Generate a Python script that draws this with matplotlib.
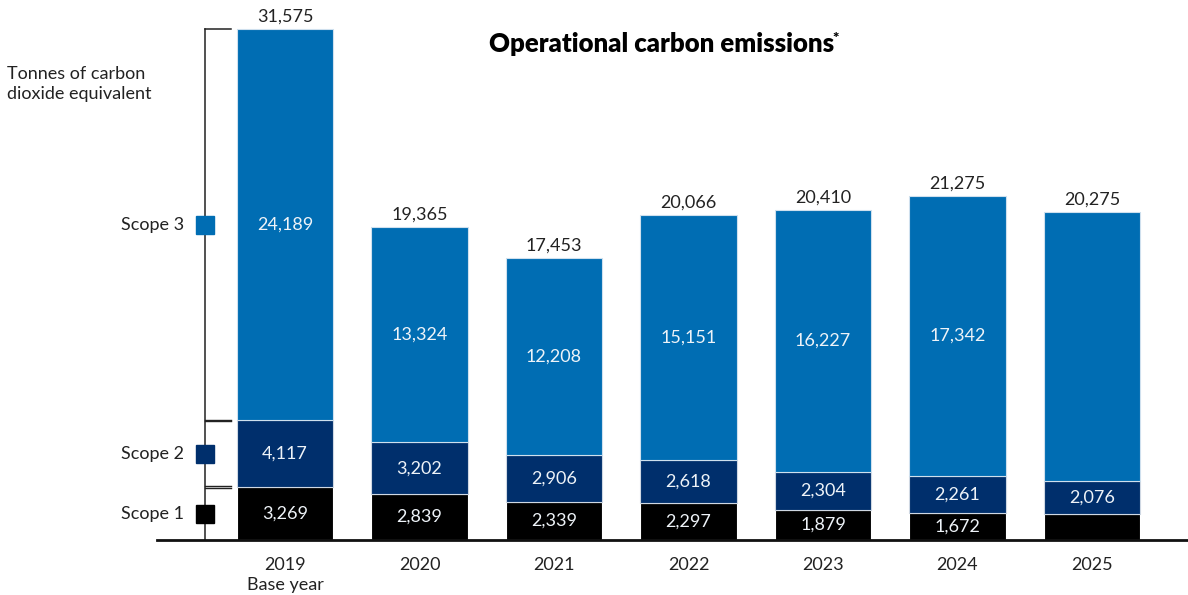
import matplotlib.pyplot as plt
import numpy as np

plt.rcParams['font.family'] = ['Lato', 'DejaVu Sans']

years = ['2019\nBase year', '2020', '2021', '2022', '2023', '2024', '2025']
scope1 = [3269, 2839, 2339, 2297, 1879, 1672, 1600]
scope2 = [4117, 3202, 2906, 2618, 2304, 2261, 2076]
scope3 = [24189, 13324, 12208, 15151, 16227, 17342, 16599]
totals = [31575, 19365, 17453, 20066, 20410, 21275, 20275]
# 2025 only shows scope 2 and the total
show_s1 = [True, True, True, True, True, True, False]
show_s3 = [True, True, True, True, True, True, False]

c1 = '#000000'
c2 = '#002f6c'
c3 = '#006db3'
txt = '#222222'
inner = '#eef3f8'

fig = plt.figure(figsize=(11.88, 5.95), dpi=100)
ax = fig.add_axes([157 / 1188, 55 / 595, 1031 / 1188, 540 / 595])

x = np.arange(len(years))
w = 0.72
s1 = np.array(scope1)
s2 = np.array(scope2)
s3 = np.array(scope3)

ax.bar(x, s1, w, color=c1, edgecolor='white', linewidth=0.8)
ax.bar(x, s2, w, bottom=s1, color=c2, edgecolor='#cfd8e3', linewidth=0.8)
ax.bar(x, s3, w, bottom=s1 + s2, color=c3, edgecolor='#cfe0ee', linewidth=0.8)

fs = 13
for i in range(len(x)):
    if show_s1[i]:
        ax.text(x[i], s1[i] / 2, f'{scope1[i]:,}', ha='center', va='center', color=inner, fontsize=fs)
    ax.text(x[i], s1[i] + s2[i] / 2, f'{scope2[i]:,}', ha='center', va='center', color=inner, fontsize=fs)
    if show_s3[i]:
        ax.text(x[i], s1[i] + s2[i] + s3[i] / 2, f'{scope3[i]:,}', ha='center', va='center', color=inner, fontsize=fs)
    ax.annotate(f'{totals[i]:,}', (x[i], totals[i]), xytext=(0, 3), textcoords='offset points',
                ha='center', va='bottom', color=txt, fontsize=fs)

ax.set_xlim(-0.952, 6.714)
ax.set_ylim(0, 33366)
for s in ['top', 'right', 'left']:
    ax.spines[s].set_visible(False)
ax.spines['bottom'].set_linewidth(2)
ax.spines['bottom'].set_color('#111111')
ax.set_yticks([])
ax.set_xticks(x)
ax.set_xticklabels(years, fontsize=13, color=txt, linespacing=1.3)
ax.tick_params(axis='x', length=0, pad=12)

# legend brackets along the 2019 bar
bx = -0.595
bx2 = -0.40
ax.plot([bx, bx], [0, totals[0]], color=txt, lw=1.1, clip_on=False)
bounds = [0, scope1[0], scope1[0] + scope2[0], totals[0]]
gap = 50
for k, b in enumerate(bounds[1:]):
    if k < 2:
        ax.plot([bx, bx2], [b - gap, b - gap], color=txt, lw=1.0, clip_on=False)
        ax.plot([bx, bx2], [b + gap, b + gap], color=txt, lw=1.0, clip_on=False)
    else:
        ax.plot([bx, bx2], [b, b], color=txt, lw=1.1, clip_on=False)

mids = [scope1[0] / 2, scope1[0] + scope2[0] / 2, scope1[0] + scope2[0] + scope3[0] / 2]
cols = [c1, c2, c3]
names = ['Scope 1', 'Scope 2', 'Scope 3']
for m, c, n in zip(mids, cols, names):
    ax.plot(bx, m, marker='s', markersize=13, color=c, clip_on=False)
    ax.text(-0.75, m, n, ha='right', va='center', color=txt, fontsize=13)

fig.text(7 / 1188, 1 - 66 / 595, 'Tonnes of carbon\ndioxide equivalent', ha='left', va='top',
         color=txt, fontsize=13, linespacing=1.3)

t = fig.text(662 / 1188, 1 - 44 / 595, 'Operational carbon emissions', ha='center', va='center',
             color='#000000', fontsize=18.5, fontweight='heavy')
ax.annotate('*', xy=(1, 1), xycoords=t, xytext=(-1.5, 0), textcoords='offset points',
            ha='left', va='top', fontsize=11, fontweight='heavy')

fig.savefig('out.png', dpi=100)
